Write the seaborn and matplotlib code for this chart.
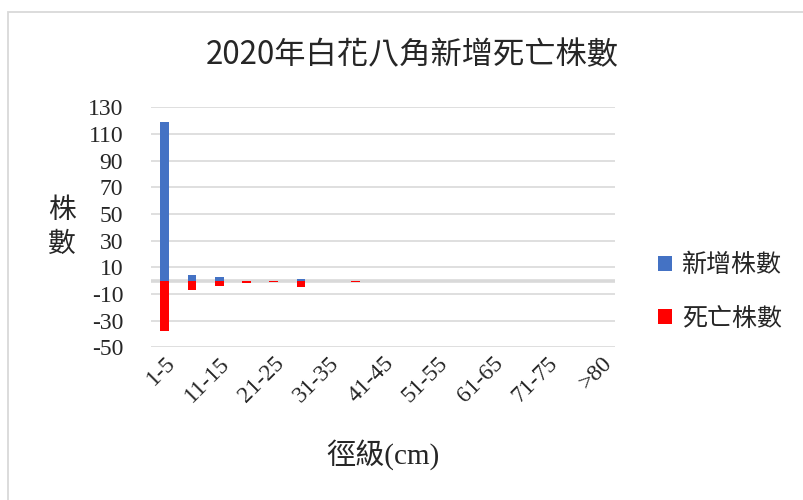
import matplotlib
matplotlib.use("Agg")
import matplotlib.pyplot as plt
from matplotlib.patches import Rectangle
import seaborn as sns
import pandas as pd

# diameter classes (cm)
classes = ["1-5", "6-10", "11-15", "16-20", "21-25", "26-30", "31-35", "36-40",
           "41-45", "46-50", "51-55", "56-60", "61-65", "66-70", "71-75", "76-80", ">80"]
new_trees = [119, 4, 3, 0, 0, 1, 0, 0, 0, 0, 0, 0, 0, 0, 0, 0, 0]
dead_trees = [-38, -7, -4, -2, -1, -5, 0, -1, 0, 0, 0, 0, 0, 0, 0, 0, 0]
series_names = ["新增株數", "死亡株數"]
colors = ["#4472C4", "#FF0000"]
y_ticks = list(range(-50, 131, 20))
title = "2020年白花八角新增死亡株數"

df = pd.DataFrame({
    "徑級": classes * 2,
    "株數": new_trees + dead_trees,
    "類別": [series_names[0]] * len(classes) + [series_names[1]] * len(classes),
})

sns.set_style("white")
plt.rcParams["font.family"] = ["Liberation Serif", "Noto Sans CJK TC"]
cjk = ["Noto Sans CJK TC", "DejaVu Sans"]

fig = plt.figure(figsize=(8.04, 5.0), dpi=100)
ax = fig.add_axes([151 / 804, 1 - 347.3 / 500, (615 - 151) / 804, (347.3 - 107.3) / 500])

sns.barplot(data=df, x="徑級", y="株數", hue="類別", order=classes,
            hue_order=series_names, palette=dict(zip(series_names, colors)),
            dodge=False, width=0.32, saturation=1, linewidth=0, ax=ax, zorder=3)

ax.set_ylim(-50, 130)
ax.set_xlim(-0.5, len(classes) - 0.5)
ax.set_yticks(y_ticks)
ax.set_yticklabels([str(v) for v in y_ticks], fontsize=17)
ax.yaxis.grid(True, color="#d9d9d9", linewidth=1.2, zorder=0)
ax.axhline(0, color="#d9d9d9", linewidth=2.6, zorder=2)
ax.tick_params(axis="y", length=0, pad=20)
ax.set_xticks(range(0, len(classes), 2))
ax.set_xticklabels(classes[::2], rotation=45, ha="right", rotation_mode="anchor", fontsize=17)
ax.tick_params(axis="x", length=0, pad=4)
ax.set_xlabel("")
ax.set_ylabel("")
for s in ax.spines.values():
    s.set_visible(False)

handles, labels = ax.get_legend_handles_labels()
ax.legend(handles, labels, loc="center left", bbox_to_anchor=(636 / 804, 1 - 292 / 500),
          bbox_transform=fig.transFigure, frameon=False, prop={"family": cjk, "size": 18},
          handlelength=0.55, handleheight=0.55, handletextpad=0.4, labelspacing=1.1)

fig.text(412 / 804, 1 - 55 / 500, title, ha="center", va="center", fontsize=22.5, family=cjk)
fig.text(62 / 804, 1 - 227 / 500, "株\n數", ha="center", va="center", fontsize=20,
         family=cjk, linespacing=1.15)
fig.text(383 / 804, 1 - 455 / 500, "徑級(cm)", ha="center", va="center", fontsize=21,
         family=["Liberation Serif", "Noto Sans CJK TC"])

fig.patches.append(Rectangle((8 / 804, -0.01), 1.0, 1 - 12 / 500 + 0.01, transform=fig.transFigure,
                             fill=False, edgecolor="#d9d9d9", linewidth=1.3))

fig.savefig("out.png", dpi=100)
